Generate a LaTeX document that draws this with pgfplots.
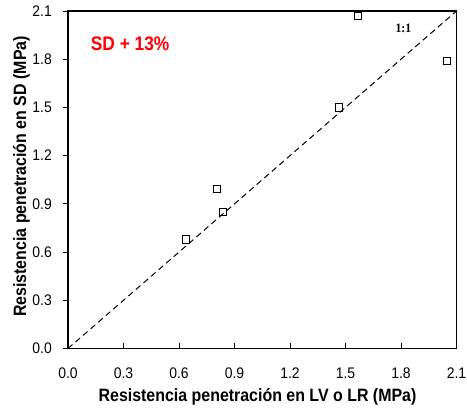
\documentclass[border=0pt]{standalone}
\usepackage{fontspec}
\setmainfont{Liberation Sans}
\newfontfamily\serifbold{Liberation Serif}
\usepackage{pgfplots}
\pgfplotsset{compat=1.18}
\begin{document}
\begin{tikzpicture}
\begin{axis}[
  scale only axis,
  width=388.5bp, height=337.5bp,
  xmin=0, xmax=2.1, ymin=0, ymax=2.1,
  xtick={0,0.3,...,2.11}, ytick={0,0.3,...,2.11},
  xticklabel={\scalebox{1}[1.1]{\pgfmathprintnumber[fixed,fixed zerofill,precision=1,assume math mode=true]{\tick}}},
  yticklabel={\scalebox{1}[1.1]{\pgfmathprintnumber[fixed,fixed zerofill,precision=1,assume math mode=true]{\tick}}},
  ticklabel style={font=\fontsize{14}{16}\selectfont},
  x tick label style={anchor=center, yshift=-24.5bp},
  y tick label style={anchor=east, inner sep=0pt, xshift=-11bp},
  axis line style={line width=1.5pt},
  x tick style={line width=0.9pt, black}, y tick style={line width=0.9pt, black},
  xtick pos=bottom, ytick pos=left,
  xtick align=inside, ytick align=outside,
  major tick length=5bp,
  xlabel={\scalebox{1}[1.12]{\bfseries Resistencia penetración en LV o LR (MPa)}},
  ylabel={\scalebox{1}[1.12]{\bfseries Resistencia penetración en SD (MPa)}},
  label style={font=\fontsize{16}{18}\selectfont},
  xlabel style={at={(axis description cs:0.4878,-0.1437)}, anchor=center},
  ylabel style={at={(axis description cs:-0.1197,0.5096)}, anchor=center, rotate=0},
  clip=false,
]
  % 1:1 reference line
  \addplot[black, line width=1pt, dash pattern=on 6bp off 4bp] coordinates {(0,0) (2.1,2.1)};
  % measured points
  \addplot[only marks, mark=square, mark size=3.3pt, mark options={line width=0.7pt, black, fill=white, yscale=1.15}] coordinates {
    (0.638,0.680)
    (0.836,0.851)
    (0.805,0.993)
    (1.465,1.501)
    (1.566,2.071)
    (2.047,1.791)
  };
  \node[text=red, font=\fontsize{17.4}{19}\selectfont\bfseries, anchor=west, inner sep=0pt] at (axis cs:0.1226,1.893) {\scalebox{1}[1.13]{SD + 13\%}};
  \node[font=\fontsize{11.7}{13}\selectfont\serifbold\bfseries, inner sep=0pt] at (axis cs:1.813,1.995) {\scalebox{1}[1.1]{1:1}};
\end{axis}
\pgfresetboundingbox
\path ([shift={(-68bp,-60.5bp)}]current axis.south west) rectangle ([shift={(10.5bp,11bp)}]current axis.north east);
\end{tikzpicture}
\end{document}
